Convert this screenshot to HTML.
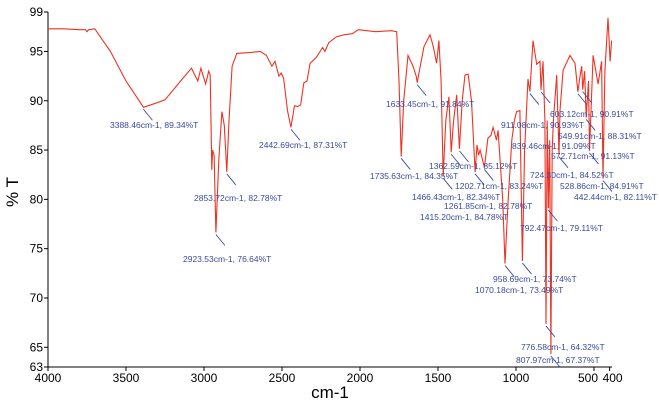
<!DOCTYPE html>
<html><head><meta charset="utf-8"><style>
body{margin:0;background:#fff;width:659px;height:403px;overflow:hidden}
svg{font-family:"Liberation Sans",sans-serif}
</style></head><body>
<svg id="c" width="659" height="403"></svg>
<script>
const wavenumbers=[4000,3900,3800,3760,3750,3740,3700,3600,3500,3388,3300,3250,3150,3080,3040,3020,2990,2970,2960,2950,2945,2935,2923.5,2905,2885,2870,2853.7,2840,2820,2790,2700,2640,2600,2565,2545,2520,2505,2490,2465,2442.7,2420,2400,2380,2360,2340,2320,2280,2240,2225,2200,2150,2100,2050,2010,1900,1800,1765,1750,1735.6,1720,1692,1660,1640,1633.5,1620,1590,1551,1530,1509,1494,1480,1466.4,1450,1430,1415.2,1400,1380,1362.6,1345,1327,1307,1285,1261.9,1250,1240,1230,1215,1202.7,1180,1160,1147,1125,1115,1085,1070.2,1050,1027,1010,996,975,958.7,945,923,911.1,891,867,846,839.5,827,815,808,800,792.5,784,776.6,768,760,739,724.3,718,698,654,622,603.1,590,579,572.7,560,549.9,535,528.9,506,474,451,442.4,430,410,397,387];
const transmittance=[97.3,97.3,97.2,97.2,97.0,97.2,97.3,95.0,92.0,89.34,89.8,90.1,92.0,93.3,92.0,93.3,91.7,93.0,92.6,83.0,85.0,84.5,76.64,84.0,88.9,87.5,82.78,88.0,93.5,94.8,94.9,95.0,94.6,93.5,94.0,92.5,92.8,92.3,89.0,87.31,89.5,89.4,89.6,91.8,92.0,93.8,94.4,95.4,95.0,95.9,96.5,96.7,96.8,97.2,97.0,97.1,97.0,92.0,84.35,90.0,94.6,93.5,92.5,91.84,93.0,95.5,96.7,95.5,93.8,96.1,92.0,82.34,88.0,90.4,84.78,88.0,90.6,85.12,90.0,92.6,92.7,90.0,82.78,85.5,84.5,85.0,84.0,83.24,86.2,86.5,87.3,86.0,87.0,80.0,73.49,80.0,86.0,88.0,88.9,89.0,73.74,85.0,92.2,90.93,96.1,93.7,94.0,91.09,94.0,88.0,67.37,88.0,79.11,86.0,64.32,85.0,88.0,92.6,84.52,89.0,93.1,94.6,93.8,90.91,92.5,93.5,91.13,93.0,88.31,92.0,84.91,94.6,91.7,94.0,82.11,93.0,98.4,94.0,96.1];
const xTicks=[4000,3500,3000,2500,2000,1500,1000,500,400];
const yTicks=[99,95,90,85,80,75,70,65,63];
const peakWn=[3388.46,2442.69,2853.72,2923.53,1633.45,1735.63,1362.59,1202.71,1466.43,1261.85,1415.20,792.47,958.69,1070.18,776.58,807.97,911.08,603.12,549.91,839.46,572.71,724.30,528.86,442.44];
const peakT=[89.34,87.31,82.78,76.64,91.84,84.35,85.12,83.24,82.34,82.78,84.78,79.11,73.74,73.49,64.32,67.37,90.93,90.91,88.31,91.09,91.13,84.52,84.91,82.11];
const labelPos=[[110,128],[259,148],[194,201],[183,262],[386,107],[370,179],[429,169],[455,189],[412,200],[444,209],[420,220],[520,231],[493,282],[475,293],[521,350],[516,363],[501,128],[550,117],[558,139],[512,149],[551,159],[530,178],[560,189],[574,200]];
const svg=document.getElementById('c');const NS='http://www.w3.org/2000/svg';
const L=48,R=609.6,T0=12,B=367;
const x=w=>L+(4000-w)*(R-L)/3600;
const y=v=>T0+(99-v)*(B-T0)/36;
function mk(t,a,p){const e=document.createElementNS(NS,t);for(const k in a)e.setAttribute(k,a[k]);(p||svg).appendChild(e);return e;}
let e=mk('line',{x1:L,y1:T0,x2:L,y2:B,stroke:'#000'});


e=mk('line',{x1:L,y1:B,x2:612,y2:B,stroke:'#000'});


yTicks.forEach(v=>{mk('line',{x1:L-4,y1:y(v),x2:L,y2:y(v),stroke:'#000'});
 const t=mk('text',{x:L-5,y:y(v)+4,'text-anchor':'end','font-size':12});t.textContent=v;
 
 });
xTicks.forEach((w,i)=>{mk('line',{x1:x(w),y1:B,x2:x(w),y2:B+4,stroke:'#000'});
 const t=mk('text',{x:x(w)+(w==500?-6:w==400?3:0),y:B+15,'text-anchor':'middle','font-size':12});t.textContent=w;
 
 });
let t=mk('text',{x:0,y:0,transform:'translate(18,192) rotate(-90)','text-anchor':'middle','font-size':17});t.textContent='% T';


t=mk('text',{x:330,y:398,'text-anchor':'middle','font-size':17});t.textContent='cm-1';


const pts=wavenumbers.map((w,i)=>x(w).toFixed(1)+','+y(transmittance[i]).toFixed(1)).join(' ');
e=mk('polyline',{points:pts,fill:'none',stroke:'#ee3322','stroke-width':1.1});


peakWn.forEach((w,i)=>{const [lx,ly]=labelPos[i];
 const px=x(w),py=y(peakT[i])+2;
 const ln=mk('line',{x1:px,y1:py,x2:px+9,y2:py+11,stroke:'#3a4a9c','stroke-width':0.9});
 
 
 const tx=mk('text',{x:lx,y:ly,'font-size':8.5,fill:'#3a4a9c'});
 tx.textContent=w.toFixed(2)+'cm-1, '+peakT[i].toFixed(2)+'%T';
 
 });
</script>
</body></html>
